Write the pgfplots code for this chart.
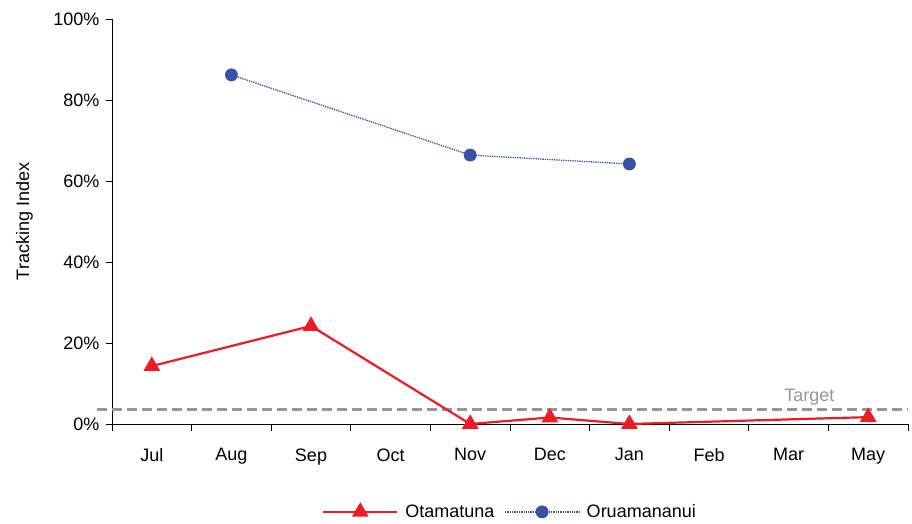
\documentclass[border=0pt]{standalone}
\usepackage{pgfplots}
\pgfplotsset{compat=1.18}
\usepackage{fontspec}
\setmainfont{Liberation Sans}
\definecolor{redl}{RGB}{237,28,36}
\definecolor{bluel}{RGB}{55,82,165}
\definecolor{grayt}{RGB}{150,150,150}
\begin{document}
\begin{tikzpicture}[x=1pt,y=1pt]
\useasboundingbox (0,0) rectangle (912,524);
\begin{axis}[
  at={(112pt,100pt)}, anchor=south west,
  scale only axis, width=796pt, height=405pt,
  font=\fontsize{18}{21}\selectfont,
  xmin=-0.5, xmax=9.5, ymin=0, ymax=100,
  axis x line*=bottom, axis y line*=left,
  axis line style={black, line width=0.8pt},
  xtick={0,...,9},
  xticklabels={Jul,Aug,Sep,Oct,Nov,Dec,Jan,Feb,Mar,May},
  minor xtick={-0.5,0.5,...,9.5},
  ytick={0,20,...,100},
  yticklabels={0\%,20\%,40\%,60\%,80\%,100\%},
  tick align=outside,
  major tick length=6pt, minor tick length=7pt,
  x tick style={draw=none},
  minor x tick style={draw=black, line width=0.8pt},
  y tick style={black, line width=0.8pt},
  xticklabel style={yshift=-15pt},
  yticklabel style={xshift=-3pt},
  ylabel={Tracking Index},
  ylabel style={at={(axis description cs:-0.11,0.5)}, anchor=center},
  clip=false,
  legend columns=2,
  legend style={draw=none, at={(0.5,-0.217)}, anchor=center, font=\fontsize{18}{21}\selectfont,
    /tikz/every odd column/.append style={column sep=5pt},
    /tikz/every even column/.append style={column sep=8pt}},
  legend image code/.code={\draw[mark repeat=2,mark phase=2,#1] plot coordinates {(0pt,0pt) (37pt,0pt) (74pt,0pt)};},
]
\addplot[grayt, line width=3pt, dash pattern=on 10pt off 5pt, forget plot] coordinates {(-0.69,3.6) (9.5,3.6)};
\node[text=grayt, font=\fontsize{18}{21}\selectfont] at (axis cs:8.26,6.5) {Target};
\addplot[redl, line width=2.2pt, mark=triangle*, mark size=7.5pt, mark options={solid, fill=redl}]
  coordinates {(0,14.3) (2,24.2) (4,0) (5,1.6) (6,0) (9,1.7)};
\addlegendentry{Otamatuna}
\addplot[bluel, line width=1.3pt, densely dotted, mark=*, mark size=5.8pt, mark options={solid, fill=bluel}]
  coordinates {(1,86.2) (4,66.4) (6,64.2)};
\addlegendentry{Oruamananui}
\end{axis}
\end{tikzpicture}
\end{document}
